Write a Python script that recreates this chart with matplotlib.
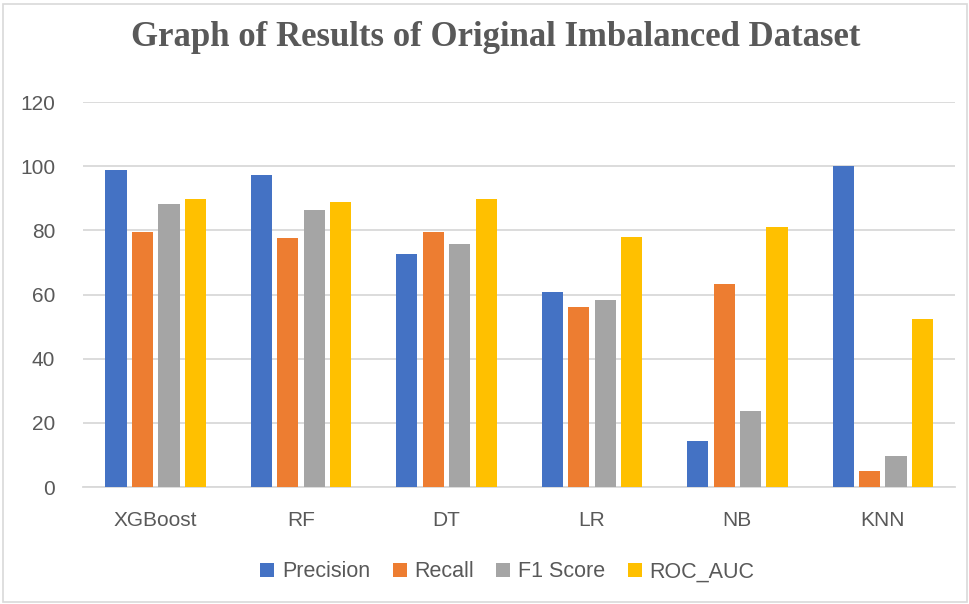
import numpy as np
import matplotlib
matplotlib.use('Agg')
import matplotlib.pyplot as plt
from matplotlib.patches import Rectangle

# Data
models = ['XGBoost', 'RF', 'DT', 'LR', 'NB', 'KNN']
precision = [98.8, 97.4, 72.7, 60.9, 14.4, 100.0]
recall = [79.6, 77.6, 79.6, 56.1, 63.2, 5.0]
f1_score = [88.2, 86.4, 75.9, 58.3, 23.6, 9.6]
roc_auc = [89.8, 88.7, 89.8, 77.9, 81.2, 52.4]

series_names = ['Precision', 'Recall', 'F1 Score', 'ROC_AUC']
colors = ['#4472C4', '#ED7D31', '#A5A5A5', '#FFC000']

text_color = '#595959'
plt.rcParams['font.family'] = ['Liberation Sans', 'DejaVu Sans']

fig = plt.figure(figsize=(9.7, 6.04), dpi=100)
ax = fig.add_axes([0.0856, 0.1937, 0.8994, 0.6373])

x = np.arange(len(models))
step = 0.182
width = 0.145
for i, (vals, name, c) in enumerate(zip([precision, recall, f1_score, roc_auc], series_names, colors)):
    ax.bar(x + (i - 1.5) * step, vals, width, color=c, label=name, zorder=3)

ax.set_xlim(-0.5, len(models) - 0.5)
ax.set_ylim(0, 120)
ax.set_yticks(range(0, 121, 20))
ax.yaxis.grid(True, color='#d9d9d9', linewidth=1.3, zorder=0)
ax.set_xticks(x)
ax.set_xticklabels(models)
ax.tick_params(axis='both', length=0, labelsize=15, colors=text_color)
ax.tick_params(axis='x', pad=17)
ax.tick_params(axis='y', pad=20)
for s in ['top', 'right', 'left']:
    ax.spines[s].set_visible(False)
ax.spines['bottom'].set_color('#d9d9d9')
ax.spines['bottom'].set_linewidth(1.3)

fig.text(0.511, 0.938, 'Graph of Results of Original Imbalanced Dataset', ha='center', va='center',
         fontsize=25, fontweight='bold', family='Liberation Serif', color=text_color)

leg = fig.legend(loc='center', bbox_to_anchor=(0.523, 0.053), ncol=4, frameon=False,
                 fontsize=15.5, handlelength=0.65, handleheight=0.65, handletextpad=0.35,
                 columnspacing=1.05)
for t in leg.get_texts():
    t.set_color(text_color)

fig.patches.append(Rectangle((0.003, 0.003), 0.994, 0.99, transform=fig.transFigure,
                             fill=False, edgecolor='#d9d9d9', linewidth=1.2))

fig.savefig('out.png', dpi=100)
